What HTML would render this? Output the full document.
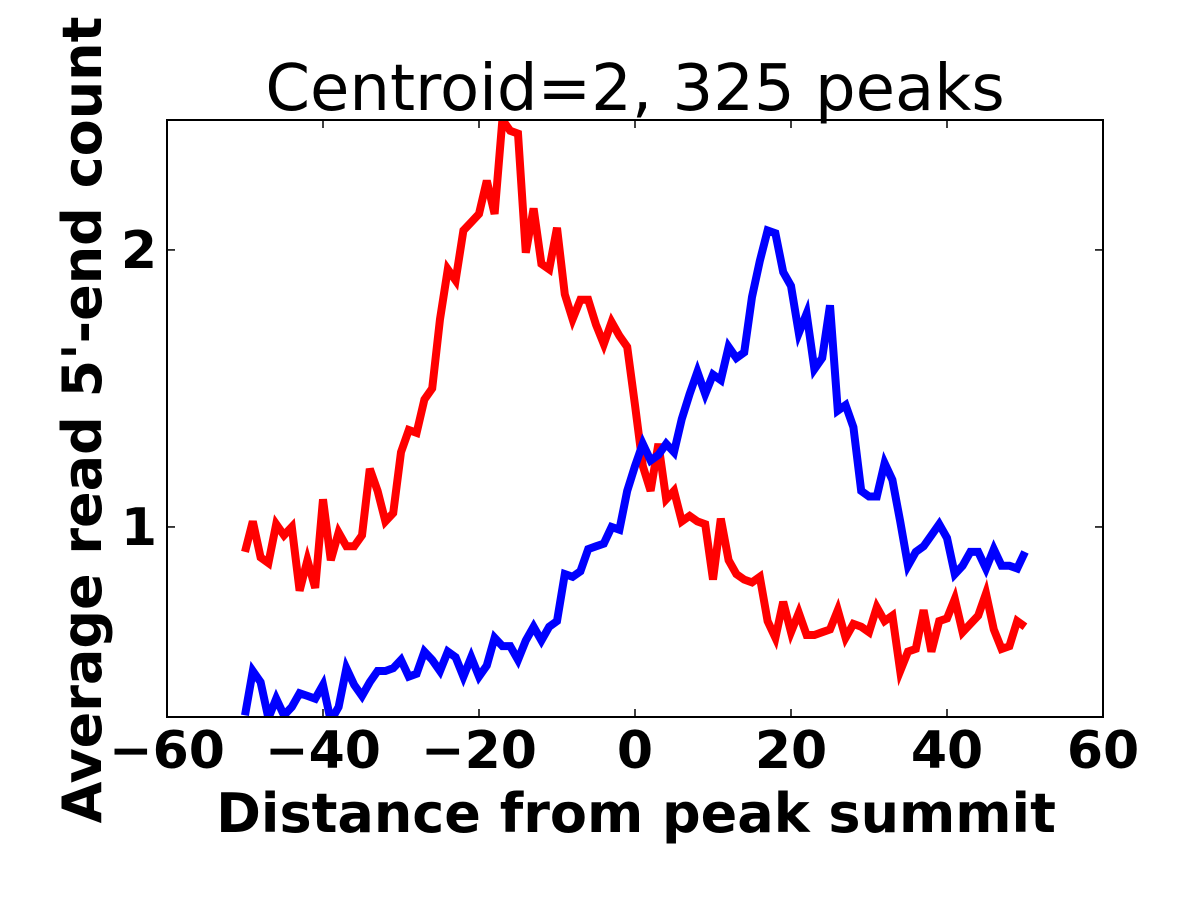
<!DOCTYPE html>
<html><head><meta charset="utf-8"><style>
html,body{margin:0;padding:0;background:#fff;}
svg{display:block;font-family:"DejaVu Sans","Liberation Sans",sans-serif;}
</style></head><body>
<svg id="chart" width="1200" height="900" viewBox="0 0 1200 900" xmlns="http://www.w3.org/2000/svg">
<rect width="1200" height="900" fill="#fff"/>
<text x="635" y="110" font-size="64" text-anchor="middle">Centroid=2, 325 peaks</text>
<defs><clipPath id="clip"><rect x="167" y="120" width="936" height="597"/></clipPath></defs>
<g id="series" clip-path="url(#clip)"></g>
<rect x="167" y="120" width="936" height="597" fill="none" stroke="#000" stroke-width="2"/>
<g id="axes"></g>
<text x="636" y="832" font-size="54" font-weight="bold" text-anchor="middle">Distance from peak summit</text>
<text transform="translate(101,420) rotate(-90)" font-size="54" font-weight="bold" text-anchor="middle">Average read 5'-end count</text>
</svg>
<script>
const xStart = -50;
const redValues = [0.91,1.02,0.89,0.87,1.01,0.97,1.00,0.77,0.88,0.78,1.10,0.88,0.98,0.93,0.93,0.97,1.21,1.13,1.02,1.05,1.27,1.35,1.34,1.46,1.50,1.75,1.93,1.89,2.07,2.10,2.13,2.25,2.13,2.47,2.43,2.42,1.99,2.15,1.95,1.93,2.08,1.84,1.75,1.82,1.82,1.73,1.66,1.74,1.69,1.65,1.44,1.22,1.13,1.30,1.10,1.13,1.02,1.04,1.02,1.01,0.81,1.03,0.88,0.83,0.81,0.80,0.82,0.66,0.60,0.73,0.62,0.69,0.61,0.61,0.62,0.63,0.70,0.60,0.65,0.64,0.62,0.71,0.66,0.68,0.48,0.55,0.56,0.70,0.55,0.66,0.67,0.74,0.62,0.65,0.68,0.76,0.63,0.56,0.57,0.66,0.64];
const blueValues = [0.32,0.48,0.44,0.31,0.38,0.32,0.35,0.40,0.39,0.38,0.43,0.30,0.35,0.49,0.43,0.39,0.44,0.48,0.48,0.49,0.52,0.46,0.47,0.55,0.52,0.48,0.55,0.53,0.46,0.53,0.46,0.50,0.60,0.57,0.57,0.52,0.59,0.64,0.59,0.64,0.66,0.83,0.82,0.84,0.92,0.93,0.94,1.00,0.99,1.13,1.22,1.30,1.24,1.26,1.30,1.27,1.39,1.48,1.56,1.48,1.55,1.53,1.65,1.61,1.63,1.83,1.96,2.07,2.06,1.92,1.87,1.70,1.77,1.57,1.61,1.80,1.42,1.44,1.36,1.13,1.11,1.11,1.23,1.17,1.02,0.86,0.91,0.93,0.97,1.01,0.96,0.83,0.86,0.91,0.91,0.85,0.92,0.86,0.86,0.85,0.91];
const xTicks = [-60,-40,-20,0,20,40,60];
const xTickLabels = ["\u221260","\u221240","\u221220","0","20","40","60"];
const yTicks = [1,2];
const yTickLabels = ["1","2"];

const NS = "http://www.w3.org/2000/svg";
const L=167,R=1103,T=120,B=717;
const xMin=-60,xMax=60,yMin=0.314,yMax=2.469;
function xs(v){return L+(v-xMin)/(xMax-xMin)*(R-L);}
function ys(v){return B-(v-yMin)/(yMax-yMin)*(B-T);}

const series=document.getElementById('series');
function drawLine(vals,color,name){
  const p=document.createElementNS(NS,'polyline');
  p.setAttribute('points',vals.map((v,i)=>xs(xStart+i).toFixed(1)+','+ys(v).toFixed(1)).join(' '));
  p.setAttribute('fill','none');p.setAttribute('stroke',color);p.setAttribute('stroke-width','8');
  p.setAttribute('stroke-linejoin','miter');
  
  
  series.appendChild(p);
}
drawLine(redValues,'#ff0000','red-series-line');
drawLine(blueValues,'#0000ff','blue-series-line');

const axes=document.getElementById('axes');
xTicks.forEach((t,i)=>{
  const x=xs(t);
  [[B,B-8],[T,T+8]].forEach(([a,b])=>{
    const l=document.createElementNS(NS,'line');
    l.setAttribute('x1',x);l.setAttribute('x2',x);l.setAttribute('y1',a);l.setAttribute('y2',b);
    l.setAttribute('stroke','#000');l.setAttribute('stroke-width','1.5');
    
    
    axes.appendChild(l);
  });
  const tx=document.createElementNS(NS,'text');
  tx.setAttribute('x',x);tx.setAttribute('y',768);tx.setAttribute('font-size','52');
  tx.setAttribute('font-weight','bold');tx.setAttribute('text-anchor','middle');
  tx.textContent=xTickLabels[i];
  
  
  axes.appendChild(tx);
});
yTicks.forEach((t,i)=>{
  const y=ys(t);
  [[L,L+8],[R,R-8]].forEach(([a,b])=>{
    const l=document.createElementNS(NS,'line');
    l.setAttribute('x1',a);l.setAttribute('x2',b);l.setAttribute('y1',y);l.setAttribute('y2',y);
    l.setAttribute('stroke','#000');l.setAttribute('stroke-width','1.5');
    
    
    axes.appendChild(l);
  });
  const tx=document.createElementNS(NS,'text');
  tx.setAttribute('x',157);tx.setAttribute('y',y+18);tx.setAttribute('font-size','52');
  tx.setAttribute('font-weight','bold');tx.setAttribute('text-anchor','end');
  tx.textContent=yTickLabels[i];
  
  
  axes.appendChild(tx);
});
</script>
</body></html>
